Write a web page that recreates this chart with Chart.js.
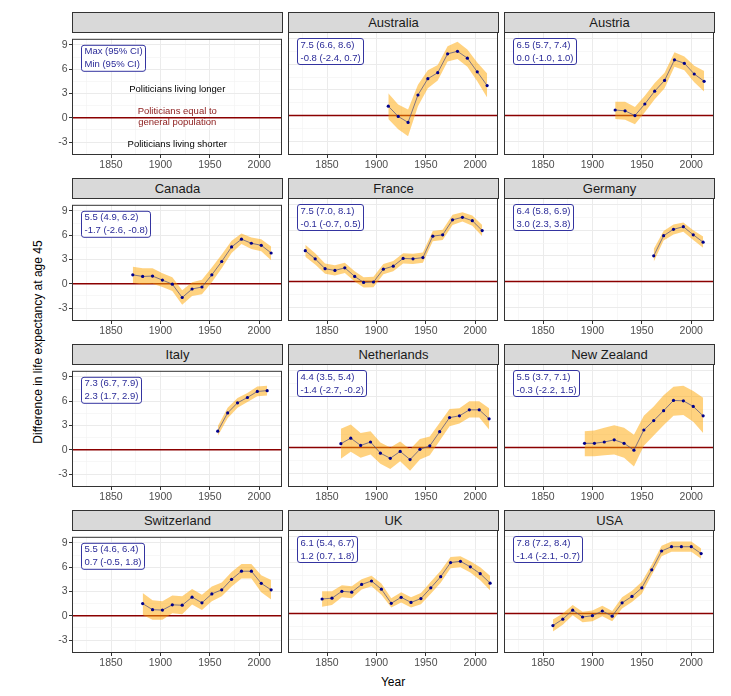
<!DOCTYPE html>
<html><head><meta charset="utf-8">
<script src="https://cdn.jsdelivr.net/npm/chart.js@4"></script>
<style>
body{margin:0;background:#fff;width:731px;height:696px;position:relative;overflow:hidden;font-family:"Liberation Sans",Arial,sans-serif}
.strip{position:absolute;box-sizing:border-box;background:#d9d9d9;border:1px solid #333;color:#1a1a1a;font-size:13px;text-align:center;line-height:19px;height:21px;width:211px}
.cv{position:absolute}
.ytitle{position:absolute;left:38px;top:342px;transform:translate(-50%,-50%) rotate(-90deg);white-space:nowrap;font-size:12px;color:#000}
.xtitle{position:absolute;left:393px;top:682px;transform:translate(-50%,-50%);font-size:12px;color:#000}
</style></head><body>
<div class="ytitle">Difference in life expectancy at age 45</div>
<div class="xtitle">Year</div>
<script>
// ---------- data ----------
const panelNames = ["", "Australia", "Austria", "Canada", "France", "Germany", "Italy", "Netherlands", "New Zealand", "Switzerland", "UK", "USA"];
const maxLabels = ["Max (95% CI)", "7.5 (6.6, 8.6)", "6.5 (5.7, 7.4)", "5.5 (4.9, 6.2)", "7.5 (7.0, 8.1)", "6.4 (5.8, 6.9)", "7.3 (6.7, 7.9)", "4.4 (3.5, 5.4)", "5.5 (3.7, 7.1)", "5.5 (4.6, 6.4)", "6.1 (5.4, 6.7)", "7.8 (7.2, 8.4)"];
const minLabels = ["Min (95% CI)", "-0.8 (-2.4, 0.7)", "0.0 (-1.0, 1.0)", "-1.7 (-2.6, -0.8)", "-0.1 (-0.7, 0.5)", "3.0 (2.3, 3.8)", "2.3 (1.7, 2.9)", "-1.4 (-2.7, -0.2)", "-0.3 (-2.2, 1.5)", "0.7 (-0.5, 1.8)", "1.2 (0.7, 1.8)", "-1.4 (-2.1, -0.7)"];
const xTickValues = [1825, 1850, 1875, 1900, 1925, 1950, 1975, 2000];
const yTickValues = [-4.5, -3, -1.5, 0, 1.5, 3, 4.5, 6, 7.5, 9];

const australiaYears = [1912,1922,1932,1942,1952,1962,1972,1982,1992,2002,2012];
const australiaValues = [1.1,-0.1,-0.8,2.4,4.3,5.0,7.2,7.5,6.7,5.1,3.5];
const australiaLower = [-0.4,-1.6,-2.4,1.1,3.2,4.1,6.3,6.6,5.7,4.0,2.1];
const australiaUpper = [2.6,1.3,0.7,3.6,5.3,5.9,8.1,8.6,7.7,6.2,4.9];

const austriaYears = [1923,1933,1943,1953,1963,1973,1983,1993,2003,2013];
const austriaValues = [0.65,0.55,0.0,1.35,2.85,4.1,6.5,6.1,4.85,4.0];
const austriaLower = [-0.4,-0.5,-1.0,0.4,1.9,3.2,5.7,5.3,3.9,2.8];
const austriaUpper = [1.6,1.6,1.0,2.3,3.8,5.0,7.4,6.9,5.8,5.2];

const canadaYears = [1872,1882,1892,1902,1912,1922,1932,1942,1952,1962,1972,1982,1992,2002,2012];
const canadaValues = [1.1,0.9,0.95,0.45,-0.05,-1.7,-0.65,-0.4,1.1,2.75,4.55,5.5,5.0,4.75,3.8];
const canadaLower = [0.1,-0.1,0.0,-0.4,-0.9,-2.6,-1.5,-1.3,0.2,1.9,3.8,4.9,4.3,4.0,2.9];
const canadaUpper = [2.1,1.9,1.9,1.3,0.8,-0.8,0.2,0.5,2.0,3.6,5.3,6.2,5.7,5.5,4.6];

const franceYears = [1828,1838,1848,1858,1868,1878,1887,1897,1907,1917,1927,1937,1947,1957,1967,1977,1987,1997,2007];
const franceValues = [3.6,2.65,1.5,1.3,1.6,0.6,-0.1,-0.05,1.45,1.8,2.7,2.65,2.8,5.3,5.45,7.2,7.5,7.1,5.95];
const franceLower = [2.9,2.0,0.9,0.7,1.0,0.0,-0.7,-0.65,0.85,1.2,2.1,2.05,2.2,4.7,4.85,6.6,7.0,6.5,5.3];
const franceUpper = [4.3,3.3,2.1,1.9,2.2,1.2,0.5,0.55,2.05,2.4,3.3,3.25,3.4,5.9,6.05,7.8,8.1,7.7,6.6];

const germanyYears = [1962,1972,1982,1992,2002,2012];
const germanyValues = [3.0,5.35,6.1,6.4,5.45,4.6];
const germanyLower = [2.3,4.8,5.5,5.8,4.85,3.95];
const germanyUpper = [3.8,5.9,6.65,6.9,6.0,5.25];

const italyYears = [1958,1968,1978,1988,1998,2008];
const italyValues = [2.3,4.55,5.8,6.45,7.2,7.3];
const italyLower = [1.7,3.9,5.2,5.9,6.6,6.7];
const italyUpper = [2.9,5.2,6.4,7.0,7.8,7.9];

const netherlandsYears = [1864,1874,1884,1894,1904,1914,1924,1934,1944,1954,1964,1974,1984,1994,2004,2014];
const netherlandsValues = [0.45,1.1,0.25,0.65,-0.65,-1.25,-0.45,-1.4,-0.2,0.2,1.85,3.5,3.7,4.4,4.4,3.35];
const netherlandsLower = [-1.3,-0.5,-1.2,-0.8,-1.9,-2.5,-1.6,-2.7,-1.4,-0.9,0.8,2.5,2.8,3.5,3.5,2.1];
const netherlandsUpper = [2.2,2.7,1.7,1.9,0.6,0.0,0.7,-0.2,1.0,1.3,2.9,4.5,4.6,5.4,5.4,4.6];

const newZealandYears = [1892,1902,1912,1922,1932,1942,1952,1962,1972,1982,1992,2002,2012];
const newZealandValues = [0.5,0.5,0.65,0.9,0.5,-0.3,2.05,3.15,4.3,5.5,5.45,4.8,3.7];
const newZealandLower = [-1.0,-1.0,-0.9,-0.8,-1.2,-2.2,0.2,1.4,2.6,3.7,3.8,3.0,1.7];
const newZealandUpper = [1.9,2.0,2.3,2.6,2.3,1.5,3.7,4.8,6.1,7.1,7.2,6.6,5.8];

const switzerlandYears = [1882,1892,1902,1912,1922,1932,1942,1952,1962,1972,1982,1992,2002,2012];
const switzerlandValues = [1.5,0.75,0.7,1.35,1.3,2.3,1.6,2.7,3.2,4.5,5.5,5.5,4.0,3.2];
const switzerlandLower = [0.1,-0.5,-0.5,0.3,0.2,1.4,0.7,1.8,2.4,3.6,4.6,4.6,2.9,2.0];
const switzerlandUpper = [2.8,1.9,1.8,2.5,2.4,3.3,2.6,3.6,4.1,5.4,6.4,6.4,5.0,4.4];

const ukYears = [1845,1855,1865,1875,1885,1895,1905,1915,1925,1935,1945,1955,1965,1975,1985,1995,2005,2015];
const ukValues = [1.7,1.8,2.6,2.5,3.4,3.8,2.85,1.2,1.9,1.3,1.75,3.0,4.3,5.95,6.1,5.45,4.65,3.55];
const ukLower = [0.8,1.0,1.9,1.8,2.8,3.2,2.2,0.7,1.3,0.7,1.1,2.3,3.6,5.3,5.4,4.8,3.9,2.7];
const ukUpper = [2.6,2.6,3.3,3.2,4.0,4.4,3.5,1.8,2.5,1.9,2.4,3.7,5.0,6.6,6.7,6.1,5.4,4.4];

const usaYears = [1860,1870,1880,1890,1900,1910,1920,1930,1940,1950,1960,1970,1980,1990,2000,2010];
const usaValues = [-1.4,-0.65,0.4,-0.4,-0.25,0.3,-0.3,1.25,2.0,3.0,5.1,7.3,7.8,7.8,7.8,7.0];
const usaLower = [-2.1,-1.3,-0.2,-1.0,-0.9,-0.3,-0.9,0.6,1.35,2.3,4.5,6.7,7.2,7.2,7.2,6.4];
const usaUpper = [-0.7,0.0,1.0,0.2,0.35,0.9,0.3,1.9,2.65,3.7,5.7,7.9,8.4,8.4,8.4,7.6];

// ---------- build ----------
const series = [
  null,
  [australiaYears, australiaValues, australiaLower, australiaUpper],
  [austriaYears, austriaValues, austriaLower, austriaUpper],
  [canadaYears, canadaValues, canadaLower, canadaUpper],
  [franceYears, franceValues, franceLower, franceUpper],
  [germanyYears, germanyValues, germanyLower, germanyUpper],
  [italyYears, italyValues, italyLower, italyUpper],
  [netherlandsYears, netherlandsValues, netherlandsLower, netherlandsUpper],
  [newZealandYears, newZealandValues, newZealandLower, newZealandUpper],
  [switzerlandYears, switzerlandValues, switzerlandLower, switzerlandUpper],
  [ukYears, ukValues, ukLower, ukUpper],
  [usaYears, usaValues, usaLower, usaUpper]
];

const FONT = '"Liberation Sans", Arial, sans-serif';
const colLeft = [72, 288, 504];
const rowTop = [32, 198, 364, 530];
const PW = 210, PH = 123;
const padT = 1, padR = 8, padB = 18;

const deco = {
  id: 'deco',
  beforeDatasetsDraw(chart) {
    const {ctx, chartArea: a, scales: {y}} = chart;
    const py = y.getPixelForValue(0);
    ctx.save();
    ctx.strokeStyle = '#8B0000';
    ctx.lineWidth = 1.5;
    ctx.beginPath(); ctx.moveTo(a.left, py); ctx.lineTo(a.right, py); ctx.stroke();
    ctx.restore();
  },
  afterDatasetsDraw(chart, args, opts) {
    const {ctx, chartArea: a, scales: {x, y}} = chart;
    ctx.save();
    (opts.notes || []).forEach(n => {
      ctx.fillStyle = n.color;
      ctx.font = '9.5px ' + FONT;
      ctx.textAlign = 'center';
      ctx.textBaseline = 'middle';
      ctx.fillText(n.text, x.getPixelForValue(n.x), y.getPixelForValue(n.y));
    });
    const lines = opts.lines || [];
    if (lines.length) {
      ctx.font = '9.5px ' + FONT;
      const w = Math.max(...lines.map(l => ctx.measureText(l).width)) + 6;
      const bx = a.left + 9.5, by = a.top + 6.5, bh = 26;
      ctx.beginPath();
      ctx.roundRect(bx, by, Math.round(w), bh, 2.5);
      ctx.fillStyle = '#fff'; ctx.fill();
      ctx.strokeStyle = '#3434a0'; ctx.lineWidth = 1; ctx.stroke();
      ctx.fillStyle = '#2a2a98';
      ctx.textAlign = 'left'; ctx.textBaseline = 'middle';
      lines.forEach((l, i) => ctx.fillText(l, bx + 3, by + 6.5 + i * 13));
    }
    ctx.strokeStyle = '#333'; ctx.lineWidth = 1;
    ctx.strokeRect(a.left + 0.5, a.top + 0.5, a.right - a.left - 1, a.bottom - a.top - 1);
    ctx.restore();
  }
};

panelNames.forEach((name, i) => {
  const r = Math.floor(i / 3), c = i % 3;
  const padL = c === 0 ? 36 : 1;
  const left = colLeft[c], top = rowTop[r];

  const strip = document.createElement('div');
  strip.className = 'strip';
  strip.style.left = left + 'px';
  strip.style.top = (top - 20) + 'px';
  strip.textContent = name;
  document.body.appendChild(strip);

  const wrap = document.createElement('div');
  wrap.className = 'cv';
  wrap.style.left = (left - padL) + 'px';
  wrap.style.top = (top - padT) + 'px';
  const cv = document.createElement('canvas');
  const W = PW + padL + padR, H = PH + padT + padB;
  cv.width = W; cv.height = H;
  cv.style.width = W + 'px'; cv.style.height = H + 'px';
  wrap.appendChild(cv);
  document.body.appendChild(wrap);

  const datasets = [];
  const s = series[i];
  if (s) {
    const [yrs, vals, lo, hi] = s;
    datasets.push({
      data: yrs.map((yv, k) => ({x: yv, y: hi[k]})),
      fill: '+1', backgroundColor: 'rgba(255,165,0,0.5)',
      borderWidth: 0, pointRadius: 0, tension: 0, order: 2
    });
    datasets.push({
      data: yrs.map((yv, k) => ({x: yv, y: lo[k]})),
      fill: false, borderWidth: 0, pointRadius: 0, tension: 0, order: 2
    });
    datasets.push({
      data: yrs.map((yv, k) => ({x: yv, y: vals[k]})),
      fill: false, borderColor: '#4a4a82', borderWidth: 0.7,
      pointRadius: 1.6, pointBackgroundColor: '#00008B', pointBorderWidth: 0,
      tension: 0, order: 0
    });
  }

  const notes = i === 0 ? [
    {text: 'Politicians living longer', x: 1917, y: 3.45, color: '#000'},
    {text: 'Politicians equal to', x: 1917, y: 0.8, color: '#8B1A1A'},
    {text: 'general population', x: 1917, y: -0.62, color: '#8B1A1A'},
    {text: 'Politicians living shorter', x: 1917, y: -3.3, color: '#000'}
  ] : [];

  new Chart(cv, {
    type: 'line',
    data: {datasets},
    plugins: [deco],
    options: {
      responsive: false, animation: false, devicePixelRatio: 1,
      layout: {padding: {left: 0, top: padT, right: padR, bottom: 0}, autoPadding: false},
      plugins: {legend: {display: false}, tooltip: {enabled: false},
        deco: {lines: [maxLabels[i], minLabels[i]], notes}},
      scales: {
        x: {
          type: 'linear', min: 1810.5, max: 2023,
          afterBuildTicks: sc => { sc.ticks = xTickValues.map(v => ({value: v})); },
          afterFit: sc => { sc.height = padB; },
          border: {display: false},
          grid: {
            color: ctx => (ctx.tick && ctx.tick.value % 50 === 0) ? '#ebebeb' : '#f4f4f4',
            lineWidth: ctx => (ctx.tick && ctx.tick.value % 50 === 0) ? 1 : 0.7,
            tickLength: 3,
            tickColor: ctx => (ctx.tick && ctx.tick.value % 50 === 0) ? '#333' : 'rgba(0,0,0,0)'
          },
          ticks: {
            autoSkip: false, maxRotation: 0, padding: 1,
            color: '#4d4d4d', font: {family: FONT, size: 10.5},
            callback: v => (v % 50 === 0 ? String(v) : '')
          }
        },
        y: {
          type: 'linear', min: -4.6, max: 9.75,
          afterBuildTicks: sc => { sc.ticks = yTickValues.map(v => ({value: v})); },
          afterFit: sc => { sc.width = padL; },
          border: {display: false},
          grid: {
            color: ctx => (ctx.tick && ctx.tick.value % 3 === 0) ? '#ebebeb' : '#f4f4f4',
            lineWidth: ctx => (ctx.tick && ctx.tick.value % 3 === 0) ? 1 : 0.7,
            drawTicks: c === 0,
            tickLength: 3,
            tickColor: ctx => (ctx.tick && ctx.tick.value % 3 === 0) ? '#333' : 'rgba(0,0,0,0)'
          },
          ticks: {
            display: c === 0, autoSkip: false, padding: 1.5,
            color: '#4d4d4d', font: {family: FONT, size: 10.5},
            callback: v => (v % 3 === 0 ? String(v) : '')
          }
        }
      }
    }
  });
});
</script>
</body></html>
